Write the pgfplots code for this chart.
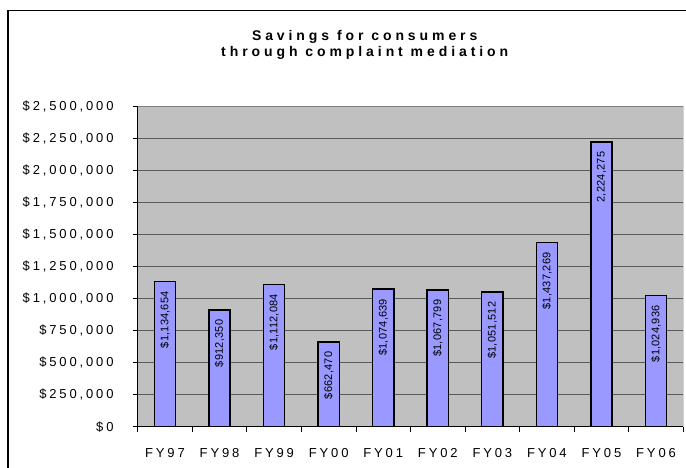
\documentclass[border=0pt]{standalone}
\usepackage{fontspec}
\setmainfont{Liberation Sans}
\newfontfamily\tickfont[LetterSpace=22]{Liberation Sans}
\newfontfamily\titlefont[LetterSpace=28]{Liberation Sans Bold}
\newfontfamily\barfont[LetterSpace=2]{Liberation Sans}
\usepackage{pgfplots}
\usepackage{pgfplotstable}
\pgfplotsset{compat=1.18}

\definecolor{plotbg}{HTML}{C0C0C0}
\definecolor{barfill}{HTML}{9999FF}
\definecolor{gridc}{HTML}{5A5A5A}
\definecolor{framec}{HTML}{808080}

% savings per fiscal year, label as printed on the bar
\pgfplotstableread{
x y lbl
0 1134654 \$1,134,654
1 912350 \$912,350
2 1112084 \$1,112,084
3 662470 \$662,470
4 1074639 \$1,074,639
5 1067799 \$1,067,799
6 1051512 \$1,051,512
7 1437269 \$1,437,269
8 2224275 2,224,275
9 1024936 \$1,024,936
}\savings

\begin{document}
\begin{tikzpicture}[x=1pt,y=1pt]
\path[use as bounding box] (0,0) rectangle (686,468);
\draw[black, line width=1.1pt] (8,457.3) rectangle (720,-20);
\node[align=center, font=\titlefont\fontsize{14}{16.5}\selectfont]
  at (364.7,423.2) {Savings for consumers\\through complaint mediation};
\begin{axis}[
    at={(137.7pt,41.3pt)}, anchor=south west,
    scale only axis,
    width=545.6pt, height=320pt,
    ybar, bar width=21.2pt,
    xmin=-0.5, xmax=9.5, ymin=0, ymax=2500000,
    axis background/.style={fill=plotbg},
    axis lines=left,
    axis line style={-, line width=1pt, black},
    xtick={-0.5,0.5,...,9.5},
    x tick label as interval,
    xticklabels={FY97,FY98,FY99,FY00,FY01,FY02,FY03,FY04,FY05,FY06},
    ytick distance=250000,
    scaled y ticks=false,
    yticklabel={\$\pgfmathprintnumber[fixed,precision=0,1000 sep={,},assume math mode=true]{\tick}},
    tick align=outside,
    major tick length=5pt,
    tick style={black, line width=0.8pt},
    ymajorgrids,
    grid style={gridc, line width=0.9pt},
    xticklabel style={font=\tickfont\fontsize{13}{15}\selectfont, inner sep=0pt, anchor=north, yshift=-16.6pt},
    yticklabel style={font=\tickfont\fontsize{13}{15}\selectfont, inner sep=0pt, anchor=east, xshift=-19pt},
    point meta=explicit symbolic,
    nodes near coords,
    nodes near coords style={font=\barfont\fontsize{11}{13}\selectfont, inner sep=0pt, yshift=-9pt, rotate=90, anchor=east},
]
\addplot[fill=barfill, draw=black, line width=1.5pt] table[x=x, y=y, meta=lbl] {\savings};
\draw[framec, line width=1pt] (rel axis cs:0,1) -- (rel axis cs:1,1) -- (rel axis cs:1,0);
\end{axis}
\end{tikzpicture}
\end{document}
